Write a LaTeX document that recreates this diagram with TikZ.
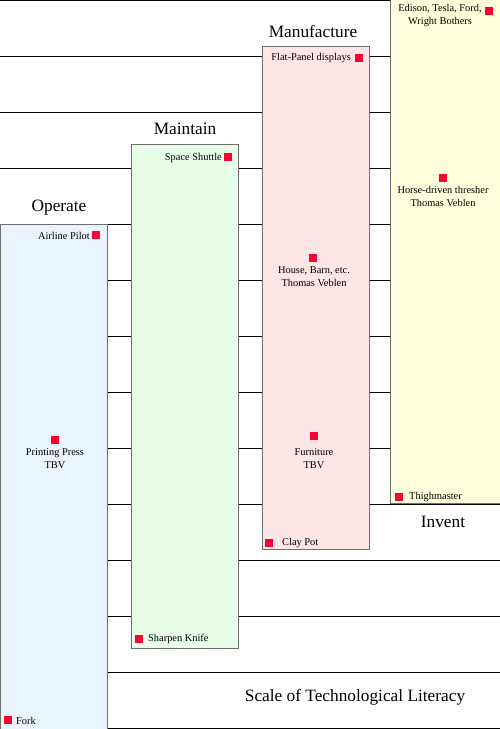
\documentclass[tikz,border=0pt]{standalone}
\usepackage{fontspec}
\setmainfont{Liberation Serif}
\definecolor{sqred}{HTML}{FF0033}
\definecolor{opblue}{HTML}{EAF4FF}
\definecolor{mtgreen}{HTML}{E6FFE6}
\definecolor{mfpink}{HTML}{FFE6E6}
\definecolor{invyellow}{HTML}{FFFFDD}
\definecolor{boxedge}{HTML}{6E6E6E}
\tikzset{
  gridline/.style={line width=1pt, draw=black},
  colbox/.style={draw=boxedge, line width=1pt, anchor=north west, inner sep=0pt, minimum width=107pt, minimum height=504pt},
  redsq/.style={fill=sqred, minimum size=7.5pt, inner sep=0pt},
  item/.style={font=\fontsize{10.4}{12.5}\selectfont, inner sep=0pt, align=center},
  coltitle/.style={font=\fontsize{17.3}{19}\selectfont, inner sep=0pt}
}
\begin{document}
\begin{tikzpicture}[x=1pt,y=-1pt]
\useasboundingbox (0,0) rectangle (500,729);
\fill[white] (0,0) rectangle (500,729);
% grid lines
\foreach \yy in {0.5,56,112,168,224,280,336,392,448,504,560,616,672,728}
  \draw[gridline] (0,\yy) -- (500,\yy);
% columns
\node[colbox, fill=opblue, minimum height=506pt] (op) at (0,224) {};
\node[colbox, fill=mtgreen] (mt) at (131,144) {};
\node[colbox, fill=mfpink, minimum height=503pt] (mf) at (262,46) {};
\node[colbox, fill=invyellow, minimum width=112pt, minimum height=504pt] (inv) at (390,-1) {};
% titles
\node[coltitle] (topt) at (59,208) {Operate};
\node[coltitle] (tmt) at (185,129) {Maintain};
\node[coltitle] (tmf) at (313,31) {Manufacture};
\node[coltitle] (tinv) at (443,522) {Invent};
\node[coltitle] (tscale) at (355,697) {Scale of Technological Literacy};
% Operate items
\node[redsq] (s1) at (96,235) {};
\node[item, anchor=east] (t1) at (90,235.5) {Airline Pilot};
\node[redsq] (s2) at (55,440) {};
\node[item, anchor=north] (t2) at (55,448.5) {Printing Press\\TBV};
\node[redsq] (s3) at (8,720) {};
\node[item, anchor=west] (t3) at (16,721) {Fork};
% Maintain items
\node[redsq] (s4) at (228,157) {};
\node[item, anchor=east] (t4) at (222,157.5) {Space Shuttle};
\node[redsq] (s5) at (139,639) {};
\node[item, anchor=west] (t5) at (148,639) {Sharpen Knife};
% Manufacture items
\node[redsq] (s6) at (359,58) {};
\node[item, anchor=east] (t6) at (351,58) {Flat-Panel displays};
\node[redsq] (s7) at (313,258) {};
\node[item, anchor=north] (t7) at (314,266.5) {House, Barn, etc.\\Thomas Veblen};
\node[redsq] (s8) at (314,436) {};
\node[item, anchor=north] (t8) at (314,448.5) {Furniture\\TBV};
\node[redsq] (s9) at (269,543) {};
\node[item, anchor=west] (t9) at (282,543) {Clay Pot};
% Invent items
\node[redsq] (s10) at (489,11) {};
\node[item, anchor=north] (t10) at (440,4.5) {Edison, Tesla, Ford,\\Wright Bothers};
\node[redsq] (s11) at (443,178) {};
\node[item, anchor=north] (t11) at (443,186.5) {Horse-driven thresher\\Thomas Veblen};
\node[redsq] (s12) at (399,497) {};
\node[item, anchor=west] (t12) at (409,497) {Thighmaster};
\end{tikzpicture}
\end{document}
